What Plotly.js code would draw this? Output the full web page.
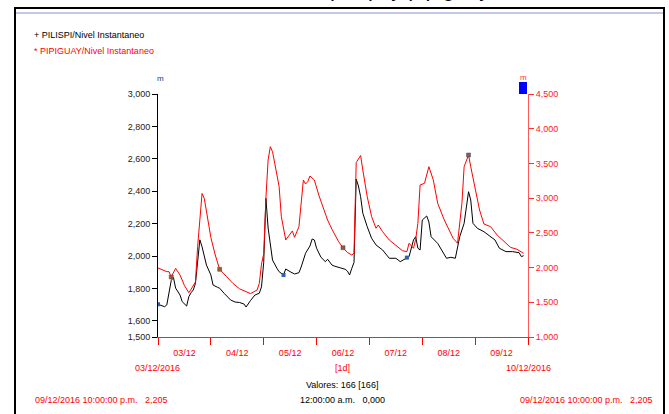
<!DOCTYPE html>
<html>
<head>
<meta charset="utf-8">
<script src="https://cdn.plot.ly/plotly-3.0.1.min.js"></script>
<style>html,body{margin:0;padding:0;background:#fff;}#chart{width:669px;height:414px;}</style>
</head>
<body>
<div id="chart"></div>
<script>
// Hours elapsed since 03/12/2016 00:00
const pilispiHours = [0,2,3,4,5,6,7,8,10,11,13,14,15,16,17,18,19,20,21,22,24,25,27,28,30,32,33,35,37,39,40,42,44,46,47,48,49,50,51,52,54,55,57,58,60,62,64,65,67,69,70,71,72,74,76,77,79,80,83,85,86,87,88,89,90,91,92,93,95,97,99,102,105,108,110,113,114,116,117,118,119,120,121,122,123,124,127,130,131,133,135,137,139,141,142,143,145,148,151,153,155,158,161,164,165,166];
// PILISPI/Nivel Instantaneo (m), left axis
const pilispiLevel = [1.702,1.691,1.687,1.698,1.772,1.848,1.868,1.802,1.759,1.718,1.691,1.749,1.773,1.790,1.831,1.955,2.100,2.057,2.006,1.944,1.883,1.821,1.807,1.801,1.770,1.745,1.728,1.716,1.713,1.704,1.685,1.725,1.759,1.770,1.810,1.960,2.356,2.173,2.068,1.975,1.924,1.903,1.883,1.920,1.903,1.889,1.897,1.932,2.017,2.062,2.105,2.099,2.048,1.992,1.965,1.980,1.944,1.938,1.926,1.918,1.907,1.883,1.924,1.960,2.475,2.432,2.366,2.264,2.181,2.109,2.068,2.037,1.986,1.986,1.965,1.990,1.996,2.099,2.119,2.048,2.037,2.222,2.235,2.247,2.210,2.119,2.078,2.006,1.986,1.992,1.986,2.119,2.202,2.397,2.346,2.202,2.171,2.150,2.119,2.099,2.048,2.027,2.027,2.020,1.996,2.002];

const pipiguayHours = [0,2,4,5,6,8,10,12,14,15,17,18,19,20,21,22,24,26,28,31,34,37,40,42,45,46,47,48,49,50,51,52,53,55,56,58,61,62,64,66,67,68,69,71,73,75,77,79,82,84,86,88,89,90,92,93,95,97,99,100,102,105,108,111,113,114,116,117,118,119,121,123,125,127,130,132,134,136,138,139,141,142,144,146,148,151,154,157,160,163,166];
// PIPIGUAY/Nivel Instantaneo (m), right axis
const pipiguayLevel = [1.994,1.965,1.941,1.941,1.864,1.989,1.893,1.742,1.638,1.687,1.792,2.301,2.685,3.067,2.998,2.793,2.433,2.181,1.975,1.874,1.773,1.694,1.648,1.625,1.677,1.773,2.050,2.200,3.000,3.550,3.741,3.669,3.502,3.165,2.733,2.397,2.527,2.436,2.589,3.261,3.204,3.237,3.319,3.261,3.045,2.877,2.685,2.551,2.373,2.286,2.217,2.181,2.206,3.513,3.614,3.405,3.021,2.733,2.566,2.613,2.517,2.397,2.325,2.243,2.229,2.350,2.278,2.407,2.638,3.189,3.214,3.453,3.261,2.926,2.685,2.541,2.422,2.350,2.926,3.453,3.621,3.453,3.117,2.829,2.628,2.589,2.469,2.373,2.292,2.263,2.205];

// hours at which the series' point markers are shown
const pilispiMarkHours = [0,57,113];
const pipiguayMarkHours = [6,28,84,141];

const leftTicks = [1.5,1.6,1.8,2.0,2.2,2.4,2.6,2.8,3.0];

function hToDate(h){
  const d = new Date(Date.UTC(2016,11,3,0,0) + h*3600000);
  return d.toISOString().slice(0,16).replace('T',' ');
}
const FONT = 'Liberation Sans, Arial, sans-serif';
const L=158, R=528, T=94, B=337;
const px = x => (x-L)/(R-L);
const py = y => (B-y)/(B-T);

function pick(hours, vals, marks){
  const xs=[], ys=[];
  marks.forEach(m=>{const i=hours.indexOf(m); if(i>=0){xs.push(hToDate(hours[i])); ys.push(vals[i]);}});
  return {x:xs,y:ys};
}
const bm = pick(pilispiHours, pilispiLevel, pilispiMarkHours);
const rm = pick(pipiguayHours, pipiguayLevel, pipiguayMarkHours);

const traces = [
  {x: pilispiHours.map(hToDate), y: pilispiLevel, type:'scatter', mode:'lines', line:{color:'#000000', width:1}, yaxis:'y', hoverinfo:'skip'},
  {x: bm.x, y: bm.y, type:'scatter', mode:'markers', marker:{symbol:'square', size:4, color:'#2f5fb0'}, yaxis:'y', hoverinfo:'skip'},
  {x: pipiguayHours.map(hToDate), y: pipiguayLevel, type:'scatter', mode:'lines', line:{color:'#ff0000', width:1}, yaxis:'y2', hoverinfo:'skip'},
  {x: rm.x, y: rm.y, type:'scatter', mode:'markers', marker:{symbol:'square', size:4, color:'#9a5a2a', line:{color:'#2f4f8f', width:0.5}}, yaxis:'y2', hoverinfo:'skip'}
];

function ann(text, x, y, color, xanchor, size){
  return {text:text, xref:'paper', yref:'paper', x:px(x), y:py(y), xanchor:xanchor||'center', yanchor:'middle',
    showarrow:false, font:{family:FONT, size:size||9, color:color}};
}

const annotations = [
  {text:'Nivel pilispi y pipiguay', xref:'paper', yref:'paper', x:px(492), y:py(3), xanchor:'right', yanchor:'bottom', showarrow:false, font:{family:FONT, size:22, color:'#000'}},
  ann('+ PILISPI/Nivel Instantaneo', 32, 35, '#000000', 'left'),
  ann('* PIPIGUAY/Nivel Instantaneo', 32, 51, '#ff0000', 'left'),
  ann('m', 160, 78, '#1f3570', 'center', 8),
  ann('m', 523, 77, '#ff3030', 'center', 8),
  ann('03/12/2016', 157, 368, '#ff0000'),
  ann('[1d]', 342, 368, '#ff0000'),
  ann('10/12/2016', 528, 368, '#ff0000'),
  ann('Valores: 166 [166]', 342, 385, '#000000'),
  ann('12:00:00 a.m.   0,000', 342, 400, '#000000'),
  ann('09/12/2016 10:00:00 p.m.   2,205', 33, 400, '#ff0000', 'left'),
  ann('09/12/2016 10:00:00 p.m.   2,205', 518, 400, '#ff0000', 'left')
];

const shapes = [
  {type:'line', xref:'paper', yref:'paper', x0:px(14), x1:px(665), y0:py(8), y1:py(8), line:{color:'#000', width:2}},
  {type:'line', xref:'paper', yref:'paper', x0:px(16), x1:px(663), y0:py(13), y1:py(13), line:{color:'#c3c8e6', width:2}},
  {type:'line', xref:'paper', yref:'paper', x0:px(15), x1:px(15), y0:py(8), y1:py(416), line:{color:'#000', width:2}},
  {type:'line', xref:'paper', yref:'paper', x0:px(664), x1:px(664), y0:py(8), y1:py(416), line:{color:'#000', width:2}},
  {type:'rect', xref:'paper', yref:'paper', x0:px(519), x1:px(527), y0:py(94), y1:py(82), fillcolor:'#0000ff', line:{width:0}}
];

const layout = {
  width:669, height:414,
  margin:{l:L, r:669-R, t:T, b:414-B, pad:0},
  paper_bgcolor:'#ffffff', plot_bgcolor:'#ffffff',
  showlegend:false,
  separators:',.',
  font:{family:FONT, size:9},
  xaxis:{type:'date', range:[hToDate(0), hToDate(168)], tick0:hToDate(0), dtick:86400000, tickformat:'%d/%m', ticklabelmode:'period',
    ticks:'outside', ticklen:7, tickcolor:'#ff0000', tickwidth:1, showline:true, linecolor:'#ff2020', linewidth:1,
    showgrid:false, zeroline:false, tickfont:{family:FONT, size:9, color:'#ff0000'}, fixedrange:true},
  yaxis:{range:[1.5,3.0], tickvals:leftTicks, tickformat:'.3f', ticks:'outside', ticklen:5, tickcolor:'#000', showline:true,
    linecolor:'#000', linewidth:1, showgrid:false, zeroline:false, tickfont:{family:FONT, size:9, color:'#222'}, fixedrange:true},
  yaxis2:{range:[1.0,4.5], tick0:1.0, dtick:0.5, tickformat:'.3f', overlaying:'y', side:'right', ticks:'outside', ticklen:5,
    tickcolor:'#ff3030', showline:true, linecolor:'#ff5a5a', linewidth:1, showgrid:false, zeroline:false,
    tickfont:{family:FONT, size:9, color:'#ff1a1a'}, fixedrange:true},
  annotations:annotations,
  shapes:shapes
};

Plotly.newPlot('chart', traces, layout, {staticPlot:true, displayModeBar:false});
</script>
</body>
</html>
